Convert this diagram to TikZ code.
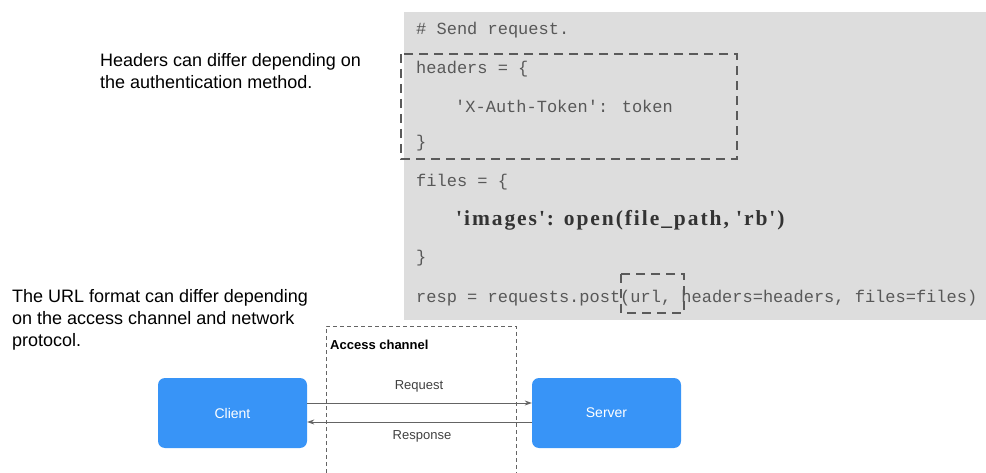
\documentclass[tikz,border=0pt]{standalone}
\usepackage{fontspec}
\setmainfont{Liberation Sans}
\newfontfamily\codefont{Liberation Mono}
\newfontfamily\serifcode[LetterSpace=9]{Liberation Serif}
\usetikzlibrary{arrows.meta}
\definecolor{codebg}{RGB}{221,221,221}
\definecolor{codetxt}{RGB}{88,88,88}
\definecolor{dashgray}{RGB}{90,90,90}
\definecolor{boxblue}{RGB}{56,148,247}
\definecolor{linegray}{RGB}{100,100,100}
\begin{document}
\begin{tikzpicture}[x=1pt,y=-1pt,
  codeline/.style={anchor=west,inner sep=0pt,text=codetxt,font=\codefont\fontsize{17}{18}\selectfont},
  note/.style={anchor=north west,inner sep=0pt,align=left,text=black,font=\fontsize{18}{22}\selectfont},
  hl/.style={draw=dashgray,line width=2.6pt,dash pattern=on 9pt off 6pt},
  endpoint/.style={draw=none,fill=boxblue,rounded corners=7pt,minimum width=149pt,minimum height=70pt,text=white,font=\fontsize{14}{16}\selectfont},
  msg/.style={draw=linegray,line width=0.8pt,-{Stealth[length=7pt,width=5pt]}},
  lbl/.style={inner sep=0pt,text=black!75,font=\fontsize{13}{15}\selectfont}]
\useasboundingbox (0,0) rectangle (986,473);
\fill[codebg] (404,12) rectangle (986,320);
\node[codeline] (c1) at (416,30) {\# Send request.};
\node[codeline] (c2) at (416,69) {headers = \{};
\node[codeline] (c3) at (455,106) {'X-Auth-Token': token};
\node[codeline] (c4) at (416,143) {\}};
\node[codeline] (c5) at (416,182) {files = \{};
\node[codeline,text=black!80,font=\serifcode\bfseries\fontsize{21.5}{23}\selectfont] (c6) at (456,220) {'images': open(file\_path, 'rb')};
\node[codeline] (c7) at (416,258) {\}};
\node[codeline] (c8) at (416,298) {resp = requests.post(url, headers=headers, files=files)};
\draw[hl] (401,54) rectangle (737,159);
\draw[hl] (621,274) rectangle (684,313);
\node[note] (n1) at (100,53) {Headers can differ depending on\\the authentication method.};
\node[note] (n2) at (12,289) {The URL format can differ depending\\on the access channel and network\\protocol.};
\draw[linegray,line width=0.7pt,dash pattern=on 4pt off 3pt] (326,473) |- (516,326) -- (516,473);
\node[anchor=west,inner sep=0pt,font=\bfseries\fontsize{13}{15}\selectfont] (ac) at (330,345) {Access channel};
\node[endpoint] (client) at (232.5,413) {Client};
\node[endpoint] (server) at (606.5,413) {Server};
\draw[msg] (client.east |- 0,403) -- (server.west |- 0,403);
\draw[msg] (server.west |- 0,422) -- (client.east |- 0,422);
\node[lbl] (req) at (419,386) {Request};
\node[lbl] (resp) at (422,436) {Response};
\end{tikzpicture}
\end{document}
